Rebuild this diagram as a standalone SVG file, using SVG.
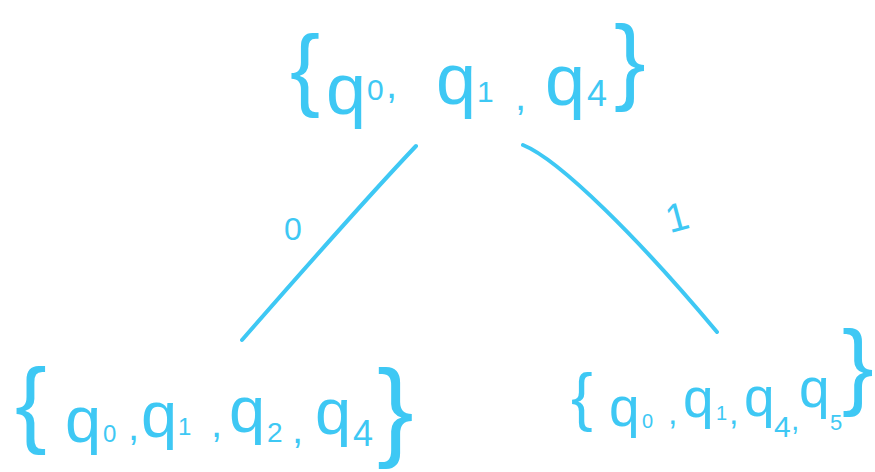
<svg xmlns="http://www.w3.org/2000/svg" width="875" height="472" viewBox="0 0 875 472">
<style>
text{font-family:"Liberation Sans",Arial,sans-serif;fill:#3ec8f4}
.e{fill:none;stroke:#3ec8f4;stroke-width:4;stroke-linecap:round;stroke-linejoin:round}
</style>
<rect width="875" height="472" fill="#ffffff"/>
<g id="connectors">
<path class="e" d="M416,146 Q360,205 242,340"/>
<path class="e" d="M523,145 C560,160 640,240 717,332"/>
<text x="284" y="240" font-size="32">0</text>
<text x="665" y="232" font-size="40" transform="rotate(-15 672 215)">1</text>
</g>
<g id="node-top">
<text x="290" y="99" font-size="90">{</text>
<text x="326" y="114" font-size="72">q</text>
<text x="367" y="100" font-size="30">0</text>
<text x="386" y="98" font-size="40">,</text>
<text x="436" y="104" font-size="72">q</text>
<text x="477" y="102" font-size="30">1</text>
<text x="515" y="110" font-size="40">,</text>
<text x="545" y="105" font-size="72">q</text>
<text x="587" y="106" font-size="36">4</text>
<text x="614" y="92" font-size="95">}</text>
</g>
<g id="node-left">
<text x="15" y="435" font-size="95">{</text>
<text x="65" y="442" font-size="65">q</text>
<text x="103" y="442" font-size="24">0</text>
<text x="128" y="440" font-size="40">,</text>
<text x="141" y="437" font-size="65">q</text>
<text x="178" y="435" font-size="24">1</text>
<text x="211" y="437" font-size="40">,</text>
<text x="229" y="432" font-size="65">q</text>
<text x="267" y="442" font-size="28">2</text>
<text x="292" y="443" font-size="40">,</text>
<text x="315" y="434" font-size="65">q</text>
<text x="353" y="446" font-size="36">4</text>
<text x="377" y="446" font-size="110">}</text>
</g>
<g id="node-right">
<text x="571" y="419" font-size="65">{</text>
<text x="609" y="426" font-size="55">q</text>
<text x="642" y="428" font-size="20">0</text>
<text x="668" y="424" font-size="34">,</text>
<text x="683" y="417" font-size="55">q</text>
<text x="716" y="420" font-size="20">1</text>
<text x="729" y="424" font-size="34">,</text>
<text x="744" y="416" font-size="55">q</text>
<text x="774" y="437" font-size="30">4</text>
<text x="791" y="430" font-size="30">,</text>
<text x="799" y="407" font-size="55">q</text>
<text x="830" y="430" font-size="22">5</text>
<text x="842" y="397" font-size="95">}</text>
</g>
</svg>
